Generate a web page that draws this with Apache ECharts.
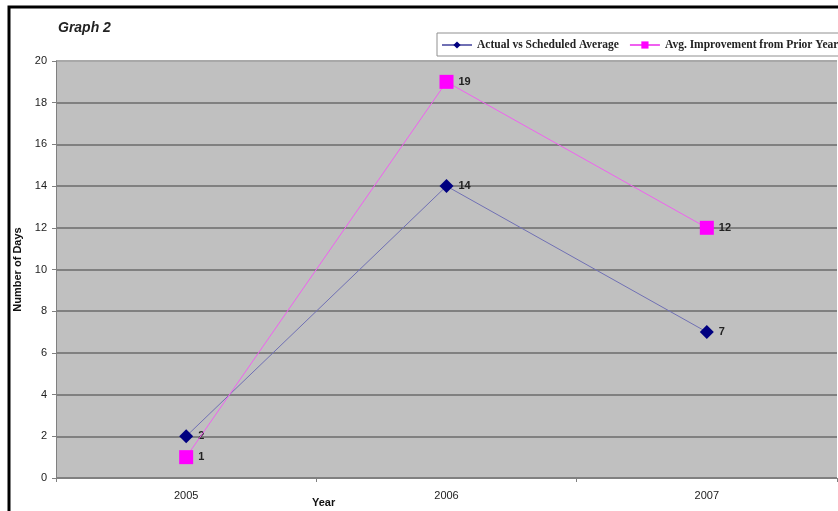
<!DOCTYPE html>
<html>
<head>
<meta charset="utf-8">
<script src="https://cdn.jsdelivr.net/npm/echarts@6/dist/echarts.min.js"></script>
<style>
  html, body { margin: 0; padding: 0; background: #fff; }
  #chart { width: 838px; height: 511px; }
</style>
</head>
<body>
<div id="chart"></div>
<script>
// Years on the category axis
const years = ['2005', '2006', '2007'];
// Days: actual vs scheduled average
const actualVsScheduled = [2, 14, 7];
// Days: average improvement from the prior year
const improvementFromPrior = [1, 19, 12];
// Value axis settings
const yMin = 0, yMax = 20, yStep = 2;

const chart = echarts.init(document.getElementById('chart'));

const gridColors = ['#808080', '#808080', '#808080', '#808080', '#808080',
  '#808080', '#808080', '#808080', '#808080', '#808080', '#a8a8a8'];

chart.setOption({
  animation: false,
  backgroundColor: '#ffffff',
  title: {
    text: 'Graph 2',
    left: 53,
    top: 16,
    textStyle: {
      fontFamily: 'Liberation Sans, Arial, sans-serif',
      fontSize: 14,
      fontWeight: 'bold',
      fontStyle: 'italic',
      color: '#222'
    }
  },
  legend: {
    orient: 'horizontal',
    left: 437,
    top: 33,
    width: 600,
    itemWidth: 30,
    itemHeight: 9,
    itemGap: 10,
    padding: [6, 4, 5, 4],
    borderColor: '#909090',
    borderWidth: 1,
    backgroundColor: '#ffffff',
    textStyle: {
      fontFamily: 'Liberation Serif, Times New Roman, serif',
      fontSize: 11.5,
      fontWeight: 'bold',
      color: '#222'
    },
    data: ['Actual vs Scheduled Average', 'Avg. Improvement from Prior Year']
  },
  grid: {
    left: 56,
    top: 61,
    right: 1,
    bottom: 33,
    show: true,
    backgroundColor: '#c0c0c0',
    borderWidth: 0
  },
  xAxis: {
    type: 'category',
    data: years,
    boundaryGap: true,
    axisLine: { lineStyle: { color: '#808080', width: 1 } },
    axisTick: { show: true, length: 4, lineStyle: { color: '#808080' } },
    axisLabel: {
      margin: 12,
      fontFamily: 'Liberation Sans, Arial, sans-serif',
      fontSize: 11,
      color: '#222'
    }
  },
  yAxis: {
    type: 'value',
    min: yMin,
    max: yMax,
    interval: yStep,
    name: 'Number of Days',
    nameLocation: 'middle',
    nameRotate: 90,
    nameGap: 32,
    nameTextStyle: {
      fontFamily: 'Liberation Sans, Arial, sans-serif',
      fontSize: 11,
      fontWeight: 'bold',
      color: '#111'
    },
    axisLine: { show: true, lineStyle: { color: '#808080', width: 1 } },
    axisTick: { show: true, length: 4, lineStyle: { color: '#808080' } },
    axisLabel: {
      margin: 9,
      fontFamily: 'Liberation Sans, Arial, sans-serif',
      fontSize: 11,
      color: '#222'
    },
    splitLine: { show: true, lineStyle: { color: gridColors, width: 2 } }
  },
  graphic: [
    {
      type: 'polyline',
      shape: { points: [[9, 511], [9, 7], [838, 7]] },
      style: { stroke: '#000', lineWidth: 3, fill: null },
      z: 100
    },
    {
      type: 'text',
      left: 312,
      top: 497,
      style: {
        text: 'Year',
        font: 'bold 11px "Liberation Sans", Arial, sans-serif',
        fill: '#111'
      }
    }
  ],
  series: [
    {
      name: 'Actual vs Scheduled Average',
      type: 'line',
      data: actualVsScheduled,
      symbol: 'diamond',
      symbolSize: 14,
      itemStyle: { color: '#000080' },
      lineStyle: { color: '#7070b4', width: 1 },
      label: {
        show: true,
        position: 'right',
        distance: 5,
        fontFamily: 'Liberation Sans, Arial, sans-serif',
        fontSize: 11,
        fontWeight: 'bold',
        color: '#222'
      },
      z: 3
    },
    {
      name: 'Avg. Improvement from Prior Year',
      type: 'line',
      data: improvementFromPrior,
      symbol: 'rect',
      symbolSize: 14,
      itemStyle: { color: '#ff00ff' },
      lineStyle: { color: '#f060f0', width: 1 },
      label: {
        show: true,
        position: 'right',
        distance: 5,
        fontFamily: 'Liberation Sans, Arial, sans-serif',
        fontSize: 11,
        fontWeight: 'bold',
        color: '#222'
      },
      z: 4
    }
  ]
});
</script>
</body>
</html>
